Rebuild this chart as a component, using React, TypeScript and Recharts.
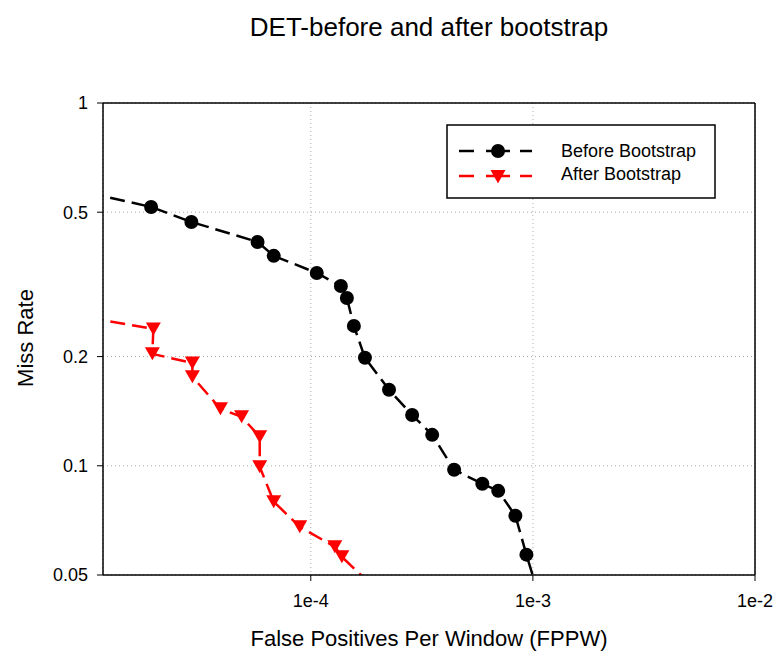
import React from 'react';
import { LineChart, Line, XAxis, YAxis, CartesianGrid, ReferenceLine } from 'recharts';

// False Positives Per Window (x) and Miss Rate (y)
const beforeX = [1.0e-5, 1.91e-5, 2.9e-5, 5.76e-5, 6.81e-5, 1.064e-4, 1.366e-4, 1.454e-4, 1.563e-4, 1.753e-4, 2.25e-4, 2.86e-4, 3.52e-4, 4.42e-4, 5.92e-4, 6.98e-4, 8.34e-4, 9.35e-4, 1.05e-3];
const beforeY = [0.565, 0.517, 0.47, 0.414, 0.379, 0.34, 0.313, 0.29, 0.243, 0.1985, 0.162, 0.138, 0.1217, 0.0975, 0.0892, 0.0853, 0.0728, 0.0569, 0.045];

const afterX = [1.0e-5, 1.955e-5, 1.935e-5, 2.93e-5, 2.93e-5, 3.92e-5, 4.88e-5, 5.89e-5, 5.89e-5, 6.81e-5, 8.92e-5, 1.283e-4, 1.38e-4, 1.83e-4];
const afterY = [0.256, 0.2384, 0.2035, 0.192, 0.176, 0.1436, 0.1365, 0.1202, 0.0994, 0.0796, 0.0679, 0.0598, 0.0561, 0.0476];

const xTicks = [1e-4, 1e-3, 1e-2];
const yTicks = [0.05, 0.1, 0.2, 0.5, 1];
const xDomain = [1.16e-5, 1e-2];
const yDomain = [0.05, 1];

const seriesNames = ['Before Bootstrap', 'After Bootstrap'];
const title = 'DET-before and after bootstrap';
const xLabel = 'False Positives Per Window (FPPW)';
const yLabel = 'Miss Rate';

const beforeData = beforeX.map((x, i) => ({ x, y: beforeY[i] }));
const afterData = afterX.map((x, i) => ({ x, y: afterY[i] }));

const FONT = '"Liberation Sans", Arial, Helvetica, sans-serif';

const CircleDot = (props: any) => {
  const { cx, cy, index } = props;
  if (cx == null || cy == null) return null;
  return <circle key={`c${index}`} cx={cx} cy={cy} r={7} fill="#000" stroke="none" />;
};

const TriDot = (props: any) => {
  const { cx, cy, index } = props;
  if (cx == null || cy == null) return null;
  const pts = `${cx - 7.5},${cy - 6.5} ${cx + 7.5},${cy - 6.5} ${cx},${cy + 6.5}`;
  return <polygon key={`t${index}`} points={pts} fill="#ff0000" stroke="none" />;
};

const fmtX = (v: number) => `1e${Math.round(Math.log10(v))}`;
const fmtY = (v: number) => String(v);

export default function App() {
  return (
    <div style={{ position: 'absolute', left: 0, top: 0, width: 776, height: 652, background: '#fff', fontFamily: FONT }}>
      <LineChart width={776} height={652} margin={{ top: 103, right: 21, left: 0, bottom: 0 }}>
        <CartesianGrid stroke="#aaaaaa" strokeDasharray="1 3" strokeWidth={1} />
        <XAxis
          dataKey="x"
          type="number"
          scale="log"
          domain={xDomain}
          ticks={xTicks}
          allowDataOverflow
          tickFormatter={fmtX}
          height={77}
          tickSize={6}
          tickMargin={13}
          stroke="#000"
          axisLine={{ stroke: '#000', strokeWidth: 1.5 }}
          tickLine={{ stroke: '#000' }}
          tick={{ fill: '#000', fontSize: 18, fontFamily: FONT }}
        />
        <YAxis
          dataKey="y"
          type="number"
          scale="log"
          domain={yDomain}
          ticks={yTicks}
          allowDataOverflow
          tickFormatter={fmtY}
          width={103}
          tickSize={6}
          tickMargin={9}
          stroke="#000"
          axisLine={{ stroke: '#000', strokeWidth: 1.5 }}
          tickLine={{ stroke: '#000' }}
          tick={{ fill: '#000', fontSize: 18, fontFamily: FONT }}
        />
        <ReferenceLine y={1} stroke="#000" strokeWidth={1.5} ifOverflow="extendDomain" />
        <ReferenceLine x={1e-2} stroke="#000" strokeWidth={1.5} ifOverflow="extendDomain" />
        <Line
          data={beforeData}
          dataKey="y"
          name={seriesNames[0]}
          type="linear"
          stroke="#000"
          strokeWidth={2.5}
          strokeDasharray="15 7"
          dot={<CircleDot />}
          activeDot={false}
          isAnimationActive={false}
        />
        <Line
          data={afterData}
          dataKey="y"
          name={seriesNames[1]}
          type="linear"
          stroke="#ff0000"
          strokeWidth={2.5}
          strokeDasharray="15 7"
          dot={<TriDot />}
          activeDot={false}
          isAnimationActive={false}
        />
      </LineChart>
      <svg width={776} height={652} style={{ position: 'absolute', left: 0, top: 0, pointerEvents: 'none' }}>
        <text x={429} y={36} textAnchor="middle" fontSize={26} fontFamily={FONT} fill="#000">{title}</text>
        <text x={429} y={646} textAnchor="middle" fontSize={22} fontFamily={FONT} fill="#000">{xLabel}</text>
        <text x={0} y={0} transform="translate(33,338) rotate(-90)" textAnchor="middle" fontSize={22} fontFamily={FONT} fill="#000">{yLabel}</text>
        <rect x={447} y={125} width={268} height={73} fill="#fff" stroke="#000" strokeWidth={1.5} />
        <g>
          <line x1={459} y1={151} x2={474} y2={151} stroke="#000" strokeWidth={2.5} />
          <line x1={486} y1={151} x2={510} y2={151} stroke="#000" strokeWidth={2.5} />
          <line x1={520} y1={151} x2={532} y2={151} stroke="#000" strokeWidth={2.5} />
          <circle cx={498} cy={151} r={7} fill="#000" />
          <text x={561} y={157} fontSize={18} fontFamily={FONT} fill="#000">{seriesNames[0]}</text>
        </g>
        <g>
          <line x1={459} y1={176} x2={474} y2={176} stroke="#ff0000" strokeWidth={2.5} />
          <line x1={486} y1={176} x2={510} y2={176} stroke="#ff0000" strokeWidth={2.5} />
          <line x1={520} y1={176} x2={532} y2={176} stroke="#ff0000" strokeWidth={2.5} />
          <polygon points="490.5,170 505.5,170 498,183.5" fill="#ff0000" />
          <text x={561} y={180} fontSize={18} fontFamily={FONT} fill="#000">{seriesNames[1]}</text>
        </g>
      </svg>
    </div>
  );
}
